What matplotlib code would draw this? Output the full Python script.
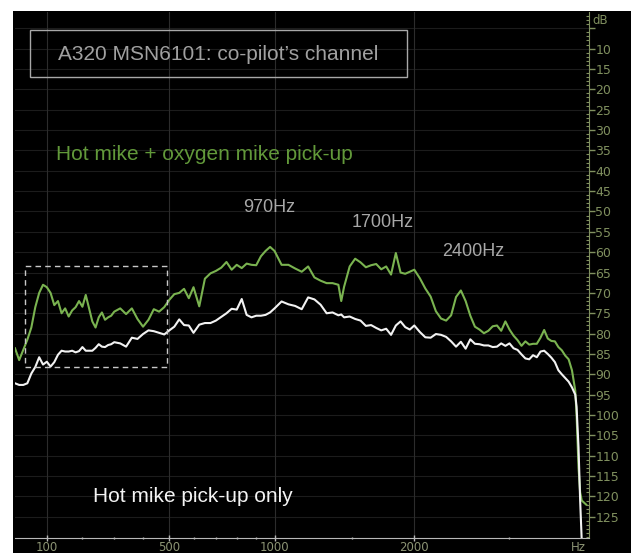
import numpy as np
import matplotlib
matplotlib.use('Agg')
import matplotlib.pyplot as plt
from matplotlib.patches import Rectangle
from matplotlib.ticker import FixedLocator, FuncFormatter

# spectrum readings, Hz -> dB
freq_hz = [20, 30, 40, 50, 60, 70, 80, 90, 100, 110, 120, 130, 140, 150, 160, 170, 180, 190,
           200, 210, 220, 230, 240, 250, 260, 270, 280, 290, 300, 320, 340, 360, 380, 400,
           420, 440, 460, 480, 500, 520, 540, 560, 580, 600, 625, 650, 675, 700, 725, 750,
           775, 800, 825, 850, 875, 900, 925, 950, 975, 1000, 1040, 1080, 1120, 1160, 1200,
           1240, 1280, 1320, 1360, 1400, 1420, 1440, 1480, 1520, 1560, 1600, 1640, 1680, 1720,
           1760, 1800, 1840, 1880, 1920, 1960, 2000, 2050, 2100, 2150, 2200, 2250, 2300, 2350,
           2400, 2450, 2500, 2550, 2600, 2650, 2700, 2750, 2800, 2850, 2900, 2950, 3000, 3050,
           3100, 3150, 3200, 3250, 3300, 3350, 3400, 3450, 3500, 3550, 3600, 3650, 3700, 3750,
           3800, 3850, 3900, 3920, 3950, 3975, 4000]

# hot mike + oxygen mike pick-up
green_db = [-83.6, -86.5, -84.0, -81.5, -78.5, -73.5, -70.0, -68.0, -68.6, -70.0, -73.0, -72.0,
            -75.0, -73.8, -75.8, -74.3, -73.5, -72.0, -73.4, -70.5, -73.8, -77.0, -78.5, -76.0,
            -74.8, -76.6, -76.0, -75.6, -74.6, -73.8, -75.2, -73.8, -76.4, -78.3, -76.6, -74.0,
            -74.6, -73.5, -71.7, -70.3, -70.0, -69.0, -71.3, -68.6, -73.3, -66.5, -65.2, -64.6,
            -63.8, -62.4, -64.3, -63.1, -63.9, -62.8, -63.1, -63.2, -61.0, -59.7, -58.7, -59.7,
            -63.1, -63.1, -64.0, -64.8, -63.5, -66.2, -67.0, -67.6, -67.6, -68.0, -72.0, -68.5,
            -63.5, -61.6, -62.5, -63.7, -63.2, -62.9, -64.2, -63.5, -65.5, -60.2, -65.0, -65.3,
            -64.8, -64.3, -66.4, -68.9, -70.9, -74.5, -76.3, -76.8, -75.5, -71.0, -69.4, -72.0,
            -75.6, -78.3, -79.0, -79.9, -79.3, -78.2, -78.0, -79.3, -77.0, -79.0, -80.5, -81.6,
            -83.0, -81.9, -82.7, -82.5, -82.5, -81.0, -79.1, -81.2, -81.8, -81.9, -83.3, -84.1,
            -85.4, -86.3, -89.0, -94.0, -100.0, -113.0, -119.0, -121.0]
green_tail_hz = [4070]
green_tail_db = [-122.0]

# hot mike pick-up only
white_db = [-92.2, -92.6, -92.6, -92.2, -89.8, -88.2, -85.8, -87.6, -86.9, -88.1, -87.0, -85.2,
            -84.2, -84.4, -84.4, -84.2, -84.6, -84.3, -83.3, -84.2, -84.2, -84.2, -83.5, -82.6,
            -83.2, -83.3, -82.8, -82.6, -82.1, -82.4, -83.2, -81.0, -81.3, -80.1, -79.2, -79.4,
            -79.8, -80.2, -79.2, -78.3, -76.5, -77.9, -78.0, -79.8, -77.8, -77.4, -77.4, -76.8,
            -75.9, -75.0, -73.9, -74.1, -71.5, -75.4, -76.0, -75.6, -75.6, -75.4, -74.8, -73.8,
            -72.1, -72.8, -73.2, -74.0, -71.1, -71.6, -72.9, -75.0, -74.8, -75.5, -75.3, -76.0,
            -75.8, -76.4, -76.8, -78.1, -77.9, -78.6, -79.2, -78.8, -80.3, -78.0, -77.0, -78.4,
            -79.0, -78.0, -79.6, -80.9, -81.0, -80.1, -80.3, -80.8, -81.9, -83.2, -82.0, -83.7,
            -81.4, -82.5, -82.6, -82.9, -82.9, -83.3, -83.2, -82.4, -83.0, -82.4, -83.6, -84.0,
            -85.1, -86.1, -86.3, -85.3, -85.8, -84.4, -84.2, -85.0, -85.9, -87.0, -89.0, -90.0,
            -90.9, -91.8, -93.2, -95.0, -98.0, -108.0, -121.0, -131.0]

major_hz = [100, 500, 1000, 2000]
minor_hz = [200, 300, 400, 600, 700, 800, 900, 1500, 3000]
peak_labels = [('970Hz', 970, -49.1), ('1700Hz', 1730, -52.6), ('2400Hz', 2580, -59.9)]


def to_mel(f):
    return 2595 * np.log10(1 + np.asarray(f, dtype=float) / 700)


def from_mel(m):
    return 700 * (10 ** (np.asarray(m, dtype=float) / 2595) - 1)


W, H = 631, 553
fig = plt.figure(figsize=(W / 100, H / 100), dpi=100)
fig.patch.set_facecolor('white')
fig.add_artist(Rectangle((13 / W, 0), 1 - 13 / W, 542 / H, transform=fig.transFigure,
                         facecolor='black', edgecolor='none', zorder=0))

ax = fig.add_axes([15 / W, 15 / H, 574 / W, 526 / H])
ax.set_facecolor('black')
ax.set_xscale('function', functions=(to_mel, from_mel))
ax.set_xlim(20, 4114)
ax.set_ylim(-130.2, -1)

# grid
for v in np.arange(-5, -130, -5):
    ax.axhline(v, color='#1c1c1c', lw=0.8, zorder=1)
for f in major_hz:
    ax.axvline(f, color='#2c2c2c', lw=0.8, zorder=1)

ax.plot(freq_hz + green_tail_hz, green_db + green_tail_db, color='#7ab350', lw=1.5, zorder=3)
ax.plot(freq_hz, white_db, color='#f2f2f2', lw=1.5, zorder=4)

# dashed region box
ax.add_patch(Rectangle((44, -88.2), 446, 24.8, fill=False, edgecolor='#c8c8c8',
                       lw=1, linestyle=(0, (4, 3)), zorder=5))

# title box
ax.add_patch(Rectangle(((30 - 15) / 574, (538 - 77) / 526), 377 / 574, 47 / 526,
                       transform=ax.transAxes, fill=False, edgecolor='#a8a8a8', lw=1, zorder=5))
ax.text((218 - 15) / 574, (538 - 54) / 526, 'A320 MSN6101: co-pilot\u2019s channel',
        transform=ax.transAxes, ha='center', va='center', fontsize=15,
        family='Liberation Sans', color='#a0a0a0')

ax.text(125, -36.1, 'Hot mike + oxygen mike pick-up', ha='left', va='center', fontsize=15,
        family='Liberation Sans', color='#62993a')
ax.text(232, -119.9, 'Hot mike pick-up only', ha='left', va='center', fontsize=15,
        family='Liberation Sans', color='#f4f4f4')
for txt, f, db in peak_labels:
    ax.text(f, db, txt, ha='center', va='center', fontsize=13,
            family='Liberation Sans', color='#a8a8a8')

# axes styling
axis_col = '#80905f'
for s in ['left', 'top']:
    ax.spines[s].set_visible(False)
ax.spines['right'].set_color(axis_col)
ax.spines['bottom'].set_color('#b8b8b8')

ax.yaxis.tick_right()
ax.yaxis.set_major_locator(FixedLocator(np.arange(-5, -130, -5)))
ax.yaxis.set_minor_locator(FixedLocator(np.arange(-2, -131, -1)))
ax.yaxis.set_major_formatter(FuncFormatter(lambda v, p: '' if v > -7 else '%d' % abs(v)))
ax.tick_params(axis='y', which='major', direction='out', length=4, width=1,
               colors=axis_col, labelsize=9, pad=0.5)
ax.tick_params(axis='y', which='minor', direction='in', length=2, width=0.8, color=axis_col)
ax.text(1.006, -3.0, 'dB', transform=ax.get_yaxis_transform(), ha='left', va='center',
        fontsize=8.5, color=axis_col)

ax.xaxis.set_major_locator(FixedLocator(major_hz))
ax.xaxis.set_minor_locator(FixedLocator(minor_hz))
ax.xaxis.set_major_formatter(FuncFormatter(lambda v, p: '%d' % v))
ax.tick_params(axis='x', which='major', direction='inout', length=4, width=1,
               color='#b8b8b8', labelcolor='#8c9474', labelsize=8.5, pad=0)
ax.tick_params(axis='x', which='minor', direction='inout', length=2, width=1, color='#b8b8b8')
ax.text(3945, -130.9, 'Hz', ha='center', va='top', fontsize=8.5, color='#8c9474', clip_on=False)

fig.savefig('out.png', dpi=100, facecolor=fig.get_facecolor())
